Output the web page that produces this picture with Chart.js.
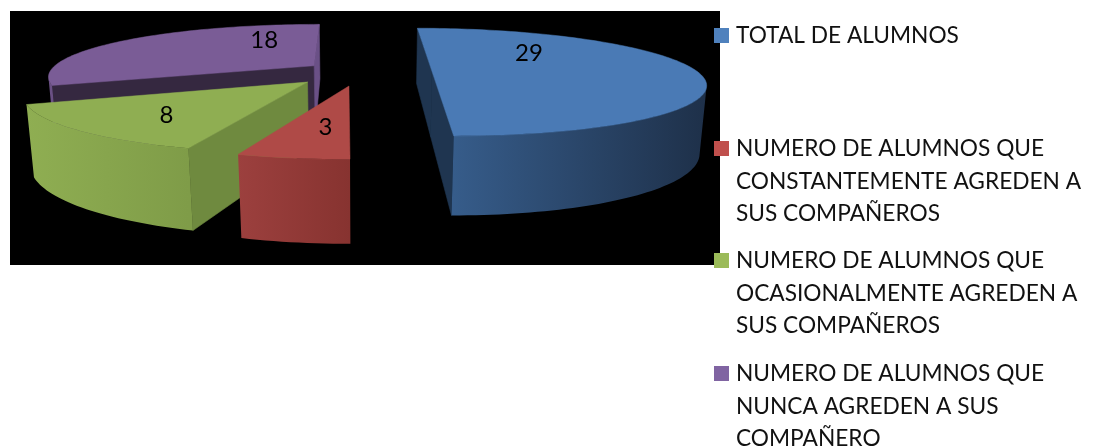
<!DOCTYPE html>
<html><head><meta charset="utf-8">
<style>html,body{margin:0;padding:0;background:#fff}canvas{display:block}</style>
<script src="https://cdn.jsdelivr.net/npm/chart.js@4"></script>
</head><body><canvas id="c" width="1093" height="448"></canvas>
<script>
const legendLabels = [
  ['TOTAL DE ALUMNOS'],
  ['NUMERO DE ALUMNOS QUE','CONSTANTEMENTE AGREDEN A','SUS COMPAÑEROS'],
  ['NUMERO DE ALUMNOS QUE','OCASIONALMENTE AGREDEN A','SUS COMPAÑEROS'],
  ['NUMERO DE ALUMNOS QUE','NUNCA AGREDEN A SUS','COMPAÑERO']
];
const values = [29, 3, 8, 18];
const topColors = ['#4A7AB5','#AF4A47','#8FAE52','#7A5C96'];
const swatchColors = ['#4F81BD','#C0504D','#9BBB59','#8064A2'];
const wallLeft = ['#365C8A','#9C403E','#8FAE52','#6a5084'];
const wallRight = ['#1E3049','#873330','#7F9C48','#6a5084'];
const startWall = ['#1F3550','#8A3532','#6F8A3F','#352840'];
const endWall = ['#1F3550','#8A3532','#6F8A3F','#6A5086'];
const explosion = [[0.264,0],[-0.05,0.27],[-0.2,0.2],[-0.183,-0.11]];
const labelNudge = [[-62,-18],[7,2],[-12,6],[69,-10]];
const legendY = [43,156,268,381];

const cam = {A:265,B:-69,C:362,D:0,E:37.4,F:71.3,p:-0.2,G:68,s:0.02,cx:364};
function proj(x,y,bottom){
  const w=1+cam.p*y+(bottom?cam.s:0);
  return [(cam.C+cam.A*x+cam.B*y+(bottom?cam.s*cam.cx:0))/w,(cam.F+cam.D*x+cam.E*y+(bottom?cam.G:0))/w];
}
function poly(ctx,pts){ctx.beginPath();pts.forEach((p,i)=>i?ctx.lineTo(p[0],p[1]):ctx.moveTo(p[0],p[1]));ctx.closePath();}
function area(q){let s=0;for(let i=0;i<q.length;i++){const a=q[i],b=q[(i+1)%q.length];s+=a[0]*b[1]-b[0]*a[1];}return s;}
function wall(ctx,p,q,pb,qb,color){
  const quad=[p,q,qb,pb];
  if(area(quad)>=0)return;
  poly(ctx,quad);ctx.fillStyle=color;ctx.strokeStyle=color;ctx.lineWidth=0.6;ctx.fill();ctx.stroke();
}
const pie3d={id:'pie3d',
  beforeDraw(chart){const c=chart.ctx;c.fillStyle='#fff';c.fillRect(0,0,1093,448);c.fillStyle='#000';c.fillRect(10,11,710,254);},
  beforeDatasetsDraw(chart){
    const ctx=chart.ctx,arcs=chart.getDatasetMeta(0).data;
    ctx.save();
    [3,0,2,1].forEach(i=>{
      const a0=arcs[i].startAngle,a1=arcs[i].endAngle,ox=explosion[i][0],oy=explosion[i][1];
      const n=Math.max(8,Math.ceil((a1-a0)*40));
      const top=[],bot=[];
      for(let k=0;k<=n;k++){const a=a0+(a1-a0)*k/n,x=ox+Math.cos(a),y=oy+Math.sin(a);top.push(proj(x,y));bot.push(proj(x,y,true));}
      const ct=proj(ox,oy),cb=proj(ox,oy,true);
      wall(ctx,ct,top[0],cb,bot[0],startWall[i]);
      wall(ctx,top[n],ct,bot[n],cb,endWall[i]);
      const vt=[],vb=[];
      for(let k=0;k<=n;k++){
        const prev=k>0&&area([top[k-1],top[k],bot[k],bot[k-1]])<0, next=k<n&&area([top[k],top[k+1],bot[k+1],bot[k]])<0;
        if(prev||next){vt.push(top[k]);vb.push(bot[k]);}
      }
      if(vt.length>1){
        const xs=vt.map(p=>p[0]);
        const g=ctx.createLinearGradient(Math.min(...xs),0,Math.max(...xs),0);
        g.addColorStop(0,wallLeft[i]);g.addColorStop(1,wallRight[i]);
        poly(ctx,[...vt,...vb.reverse()]);ctx.fillStyle=g;ctx.fill();
      }
      poly(ctx,[ct,...top]);ctx.fillStyle=topColors[i];ctx.strokeStyle=topColors[i];ctx.lineWidth=0.5;ctx.fill();ctx.stroke();
    });
    ctx.restore();
    return false;
  },
  afterDraw(chart){
    const ctx=chart.ctx,arcs=chart.getDatasetMeta(0).data;
    ctx.save();ctx.fillStyle='#000';ctx.textAlign='center';ctx.textBaseline='middle';ctx.font='24px Lato';
    arcs.forEach((arc,i)=>{
      const m=(arc.startAngle+arc.endAngle)/2;
      const p=proj(explosion[i][0]+0.6*Math.cos(m),explosion[i][1]+0.6*Math.sin(m));
      ctx.fillText(String(values[i]),p[0]+labelNudge[i][0],p[1]+labelNudge[i][1]);
    });
    ctx.textAlign='left';ctx.textBaseline='alphabetic';ctx.font='22.7px Lato';
    legendLabels.forEach((lines,i)=>{
      ctx.fillStyle=swatchColors[i];ctx.fillRect(714,legendY[i]-15,15,15);
      ctx.fillStyle='#111';
      lines.forEach((t,j)=>ctx.fillText(t,736,legendY[i]+j*32.6));
    });
    ctx.restore();
  }
};
new Chart(document.getElementById('c'),{type:'pie',
  data:{labels:legendLabels,datasets:[{data:values,backgroundColor:topColors,borderWidth:0}]},
  options:{responsive:false,animation:false,plugins:{legend:{display:false},tooltip:{enabled:false}}},
  plugins:[pie3d]});
</script></body></html>
